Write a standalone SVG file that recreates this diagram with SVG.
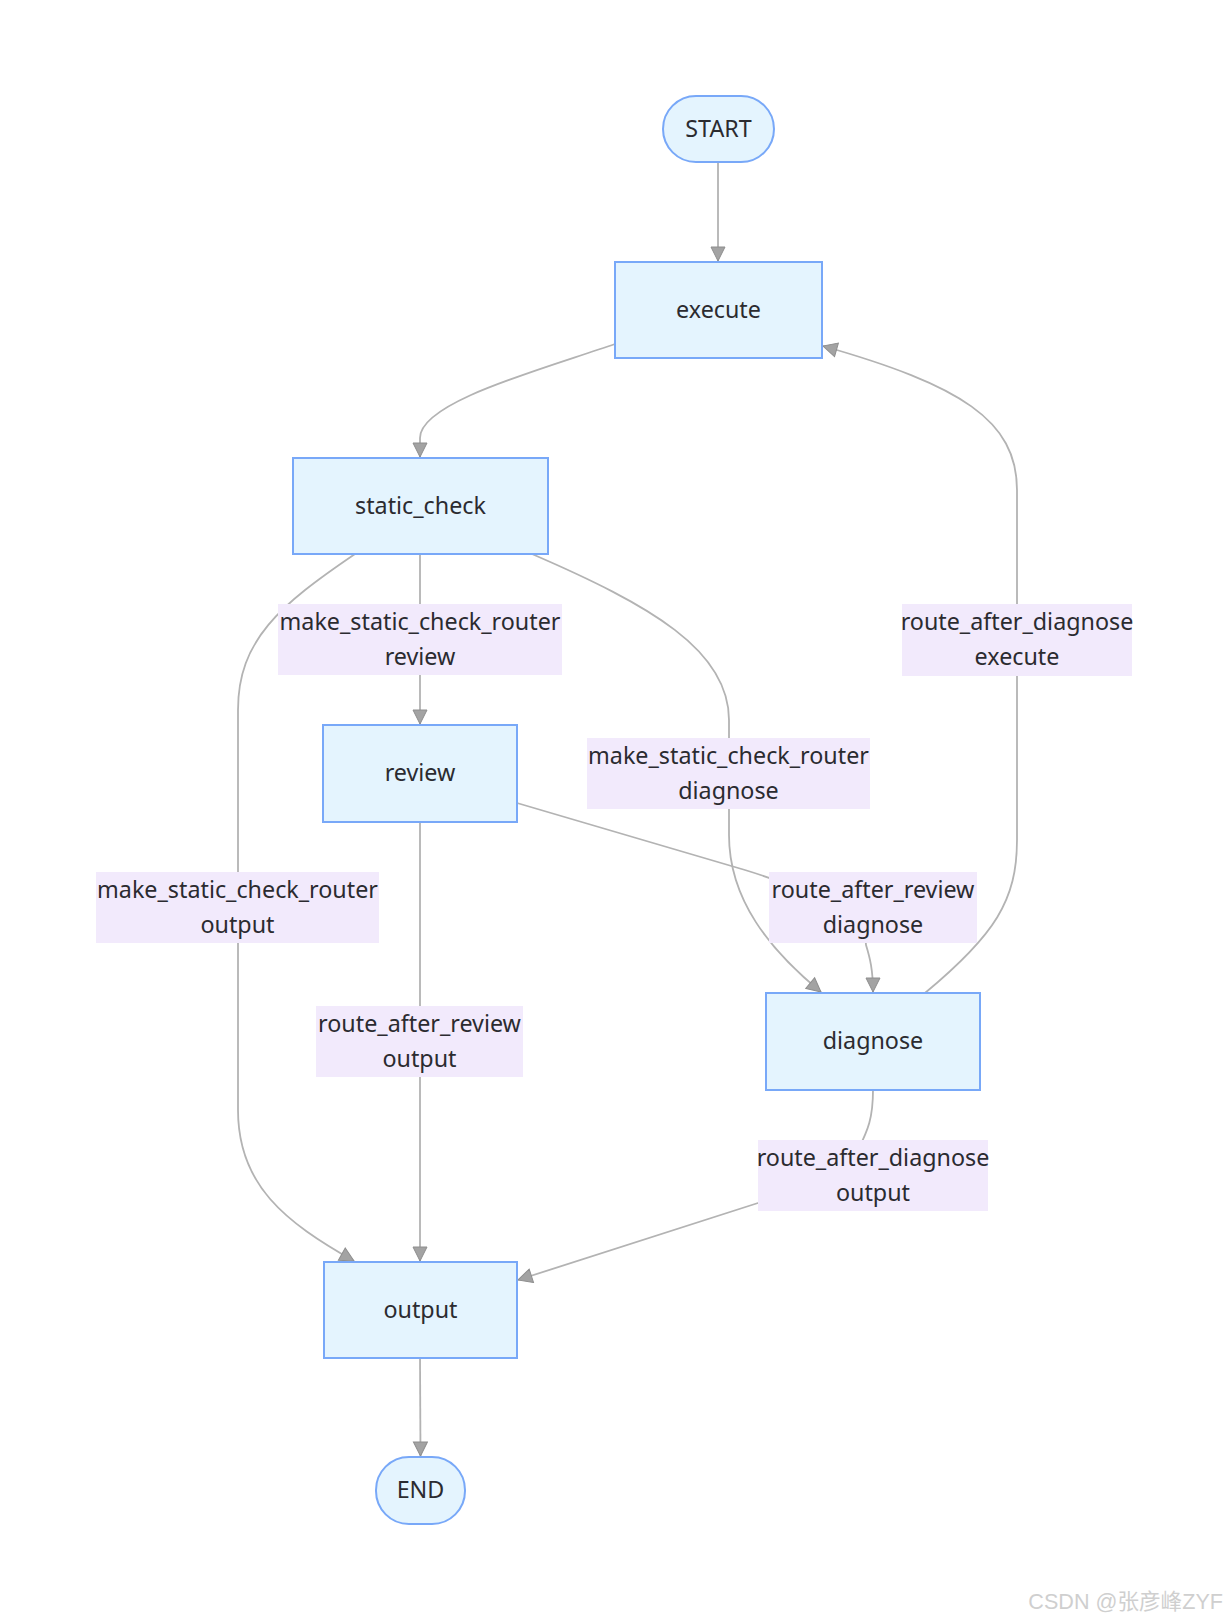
<svg xmlns="http://www.w3.org/2000/svg" width="1228" height="1620" viewBox="0 0 1228 1620">
<style>
.node rect{fill:#e4f4fe;stroke:#78a8f8;stroke-width:2}
.lbl rect{fill:#f2eafc;stroke:none}
text{font-family:"Noto Sans","Open Sans","Liberation Sans",sans-serif;font-size:23.3px;fill:#2b2b30;text-anchor:middle}
.edges path{fill:none;stroke:#b3b3b3;stroke-width:1.8}
.wm{font-family:"Liberation Sans","Noto Sans CJK SC",sans-serif;font-size:21.6px;fill:#cfcfcf;text-anchor:end}
</style>
<defs>
<marker id="arr" markerUnits="userSpaceOnUse" markerWidth="16" markerHeight="16" refX="14" refY="7" orient="auto" viewBox="-1 -1 16 16">
<path d="M0,0 L14,7 L0,14 z" fill="#a3a3a3" stroke="#8e8e8e" stroke-width="1"/>
</marker>
</defs>
<rect width="1228" height="1620" fill="#ffffff"/>
<g class="edges">
<path d="M718,162 L718,261" marker-end="url(#arr)"/>
<path d="M615,344 C540,370 420,402 420,438 L420,457" marker-end="url(#arr)"/>
<path d="M420,554 L420,724" marker-end="url(#arr)"/>
<path d="M355,554 C280,605 238,640 238,710 L238,1110 C238,1185 285,1222 354,1261" marker-end="url(#arr)"/>
<path d="M532,554 C650,605 729,650 729,720 L729,835 C729,900 770,950 821,992" marker-end="url(#arr)"/>
<path d="M925,993 C995,935 1017,900 1017,840 L1017,490 C1017,420 960,385 823,346" marker-end="url(#arr)"/>
<path d="M517,803 L745,870 C810,890 866,915 866,945 C870,958 873,970 873,992" marker-end="url(#arr)"/>
<path d="M420,822 L420,1261" marker-end="url(#arr)"/>
<path d="M873,1090 C873,1118 868,1130 858,1150 C840,1180 800,1190 758,1203 L518,1280" marker-end="url(#arr)"/>
<path d="M420,1358 L420.5,1456" marker-end="url(#arr)"/>
</g>
<g id="lbl-sc-review" class="lbl"><rect x="278" y="604" width="284" height="71"/><text x="420" y="630">make_static_check_router</text><text x="420" y="665">review</text></g>
<g id="lbl-diag-exec" class="lbl"><rect x="902" y="604" width="230" height="72"/><text x="1017" y="630">route_after_diagnose</text><text x="1017" y="665">execute</text></g>
<g id="lbl-sc-diag" class="lbl"><rect x="587" y="738" width="283" height="71"/><text x="728.5" y="764">make_static_check_router</text><text x="728.5" y="799">diagnose</text></g>
<g id="lbl-sc-output" class="lbl"><rect x="96" y="872" width="283" height="71"/><text x="237.5" y="898">make_static_check_router</text><text x="237.5" y="933">output</text></g>
<g id="lbl-rev-diag" class="lbl"><rect x="769" y="872" width="208" height="71"/><text x="873" y="898">route_after_review</text><text x="873" y="933">diagnose</text></g>
<g id="lbl-rev-output" class="lbl"><rect x="316" y="1006" width="207" height="71"/><text x="419.5" y="1032">route_after_review</text><text x="419.5" y="1067">output</text></g>
<g id="lbl-diag-output" class="lbl"><rect x="758" y="1140" width="230" height="71"/><text x="873" y="1166">route_after_diagnose</text><text x="873" y="1201">output</text></g>
<g id="START" class="node"><rect x="663" y="96" width="111" height="66" rx="33" ry="33"/><text x="718.5" y="137">START</text></g>
<g id="execute" class="node"><rect x="615" y="262" width="207" height="96"/><text x="718.5" y="318">execute</text></g>
<g id="static_check" class="node"><rect x="293" y="458" width="255" height="96"/><text x="420.5" y="514">static_check</text></g>
<g id="review" class="node"><rect x="323" y="725" width="194" height="97"/><text x="420" y="781">review</text></g>
<g id="diagnose" class="node"><rect x="766" y="993" width="214" height="97"/><text x="873" y="1049">diagnose</text></g>
<g id="output" class="node"><rect x="324" y="1262" width="193" height="96"/><text x="420.5" y="1318">output</text></g>
<g id="END" class="node"><rect x="376" y="1457" width="89" height="67" rx="33" ry="33"/><text x="420.5" y="1498">END</text></g>
<text class="wm" x="1223" y="1609">CSDN @张彦峰ZYF</text>
</svg>
